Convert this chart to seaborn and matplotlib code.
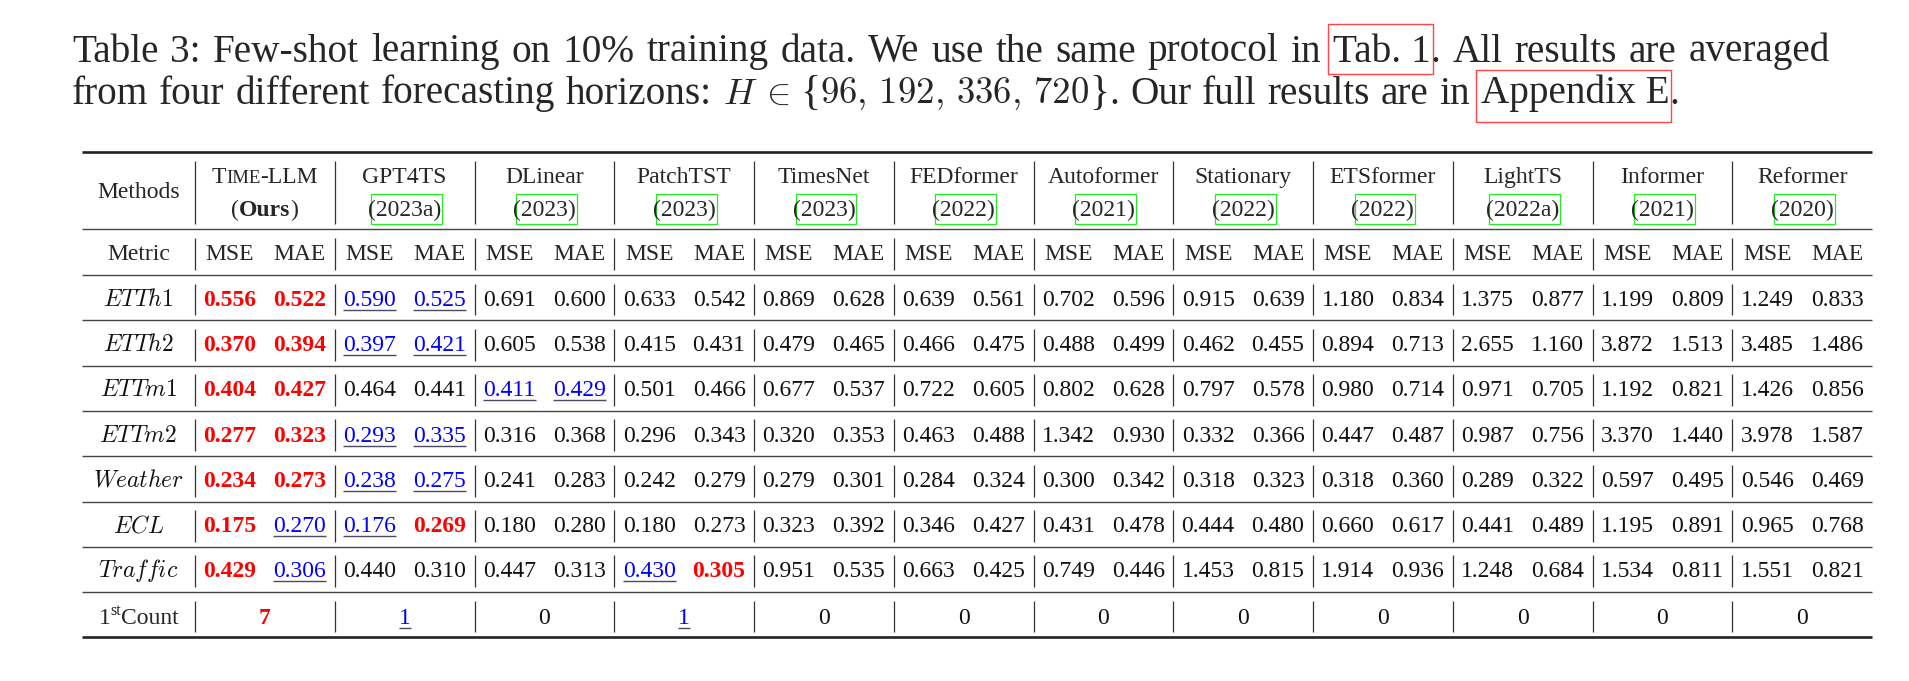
import numpy as np
import pandas as pd
import matplotlib
matplotlib.use('Agg')
import matplotlib.pyplot as plt
from matplotlib.patches import Rectangle
import seaborn as sns

# ---- table data (Table 3, few-shot 10%) ----
methods = ['Time-LLM', 'GPT4TS', 'DLinear', 'PatchTST', 'TimesNet', 'FEDformer',
           'Autoformer', 'Stationary', 'ETSformer', 'LightTS', 'Informer', 'Reformer']
cites = ['(Ours)', '(2023a)', '(2023)', '(2023)', '(2023)', '(2022)',
         '(2021)', '(2022)', '(2022)', '(2022a)', '(2021)', '(2020)']
metrics = ['MSE', 'MAE']
datasets = ['ETTh1', 'ETTh2', 'ETTm1', 'ETTm2', 'Weather', 'ECL', 'Traffic']

etth1 = [0.556, 0.522, 0.590, 0.525, 0.691, 0.600, 0.633, 0.542, 0.869, 0.628, 0.639, 0.561,
         0.702, 0.596, 0.915, 0.639, 1.180, 0.834, 1.375, 0.877, 1.199, 0.809, 1.249, 0.833]
etth2 = [0.370, 0.394, 0.397, 0.421, 0.605, 0.538, 0.415, 0.431, 0.479, 0.465, 0.466, 0.475,
         0.488, 0.499, 0.462, 0.455, 0.894, 0.713, 2.655, 1.160, 3.872, 1.513, 3.485, 1.486]
ettm1 = [0.404, 0.427, 0.464, 0.441, 0.411, 0.429, 0.501, 0.466, 0.677, 0.537, 0.722, 0.605,
         0.802, 0.628, 0.797, 0.578, 0.980, 0.714, 0.971, 0.705, 1.192, 0.821, 1.426, 0.856]
ettm2 = [0.277, 0.323, 0.293, 0.335, 0.316, 0.368, 0.296, 0.343, 0.320, 0.353, 0.463, 0.488,
         1.342, 0.930, 0.332, 0.366, 0.447, 0.487, 0.987, 0.756, 3.370, 1.440, 3.978, 1.587]
weather = [0.234, 0.273, 0.238, 0.275, 0.241, 0.283, 0.242, 0.279, 0.279, 0.301, 0.284, 0.324,
           0.300, 0.342, 0.318, 0.323, 0.318, 0.360, 0.289, 0.322, 0.597, 0.495, 0.546, 0.469]
ecl = [0.175, 0.270, 0.176, 0.269, 0.180, 0.280, 0.180, 0.273, 0.323, 0.392, 0.346, 0.427,
       0.431, 0.478, 0.444, 0.480, 0.660, 0.617, 0.441, 0.489, 1.195, 0.891, 0.965, 0.768]
traffic = [0.429, 0.306, 0.440, 0.310, 0.447, 0.313, 0.430, 0.305, 0.951, 0.535, 0.663, 0.425,
           0.749, 0.446, 1.453, 0.815, 1.914, 0.936, 1.248, 0.684, 1.534, 0.811, 1.551, 0.821]
first_count = [7, 1, 0, 1, 0, 0, 0, 0, 0, 0, 0, 0]

cols = pd.MultiIndex.from_product([methods, metrics])
df = pd.DataFrame([etth1, etth2, ettm1, ettm2, weather, ecl, traffic],
                  index=datasets, columns=cols)

RED = '#ff0000'
BLUE = '#0000ff'

sns.set_theme(style='white')
plt.rcParams['font.family'] = ['Liberation Serif', 'DejaVu Serif']
plt.rcParams['mathtext.fontset'] = 'cm'

fig = plt.figure(figsize=(19.09, 6.81), dpi=100)
ax = fig.add_axes([0, 0, 1, 1])
ax.set_xlim(0, 1909)
ax.set_ylim(681, 0)
ax.axis('off')
sns.despine(ax=ax, left=True, bottom=True)
renderer = fig.canvas.get_renderer()


def rich(x, y, pieces, ha='center', size=17):
    """draw a list of (text, kwargs) pieces side by side, return x-extent"""
    objs, widths = [], []
    for s, kw in pieces:
        kw = dict(kw)
        dy = kw.pop('dy', 0)
        pad = kw.pop('pad', 0)
        kw.setdefault('fontsize', size)
        t = ax.text(0, y - dy, s, ha='left', va='baseline', **kw)
        objs.append(t)
        widths.append(t.get_window_extent(renderer).width + pad)
    total = sum(widths)
    x0 = x - total / 2 if ha == 'center' else x
    cur = x0
    spans = []
    for t, w in zip(objs, widths):
        t.set_x(cur)
        spans.append((cur, cur + w))
        cur += w
    return x0, x0 + total, spans


# ---- caption ----
TS = 28.3
BASE1, BASE2 = 61.5, 103.5
LEFT, RIGHT = 72, 1830
probe = ax.text(0, 0, 'a a', fontsize=TS)
probe2 = ax.text(0, 0, 'aa', fontsize=TS)
SPACE = probe.get_window_extent(renderer).width - probe2.get_window_extent(renderer).width
probe.remove()
probe2.remove()

line1 = 'Table 3: Few-shot learning on 10% training data. We use the same protocol in'.split()
line1 = [[(w, {})] for w in line1]
line1.append([('Tab. 1', {'box': 'tab'}), ('.', {})])
line1 += [[(w, {})] for w in 'All results are averaged'.split()]

MATH = {'math_fontfamily': 'cm', 'fontsize': 26.5}
line2 = [[(w, {})] for w in 'from four different forecasting horizons:'.split()]
line2.append([(r'$H$', dict(MATH, pad=3)), (r'$\in$', dict(MATH, pad=10)),
              ('{', {'fontsize': 30}),
              (r'$96,\,192,\,336,\,720$', MATH), ('}', {'fontsize': 30}), ('.', {})])
line2 += [[(w, {})] for w in 'Our full results are in'.split()]
line2.append([('Appendix E', {'box': 'app'}), ('.', {})])


def lay_line(words, base, justify):
    drawn = []
    for word in words:
        pcs = []
        boxes = []
        for s, kw in word:
            kw = dict(kw)
            b = kw.pop('box', None)
            pcs.append((s, kw))
            boxes.append(b)
        x0, x1, spans = rich(0, base, pcs, ha='left', size=TS)
        drawn.append((x1 - x0, spans, boxes, pcs))
    widths = [d[0] for d in drawn]
    if justify:
        gap = (RIGHT - LEFT - sum(widths)) / (len(words) - 1)
    else:
        gap = SPACE * 1.1
    cur = LEFT
    result = []
    for (w, spans, boxes, pcs) in drawn:
        result.append((cur, spans, boxes))
        cur += w + gap
    return result, gap


for words, base, just in [(line1, BASE1, True), (line2, BASE2, False)]:
    start_idx = len(ax.texts)
    res, gap = lay_line(words, base, just)
    texts = ax.texts[start_idx:]
    k = 0
    for cur, spans, boxes in res:
        off = cur - spans[0][0]
        for (a, b), box in zip(spans, boxes):
            texts[k].set_x(a + off)
            if box == 'tab':
                ax.add_patch(Rectangle((a + off - 5, base - 37.5), b - a + 7, 50,
                                       fill=False, ec='#ff4545', lw=1.0))
            elif box == 'app':
                ax.add_patch(Rectangle((a + off - 5, base - 33.5), b - a + 7, 52,
                                       fill=False, ec='#ff4545', lw=1.0))
            k += 1

# ---- table geometry ----
X0, X1 = 82, 1872
COL0 = 195
GW = (X1 - COL0) / len(methods)
rule_y = [152, 229, 275] + [275 + 45.3 * (i + 1) for i in range(len(datasets) + 1)]
THICK, THIN = 1.9, 1.0

for i, yv in enumerate(rule_y):
    lw = THICK if i in (0, len(rule_y) - 1) else THIN
    col = '#222222' if lw == THICK else '#444444'
    ax.hlines(yv, X0, X1, color=col, lw=lw)

# vertical separators per row
for top, bot in zip(rule_y[:-1], rule_y[1:]):
    for k in range(len(methods)):
        xv = COL0 + GW * k
        ax.vlines(xv, top + 8.5, bot - 5, color='#333333', lw=0.9)

mid = [(a + b) / 2 for a, b in zip(rule_y[:-1], rule_y[1:])]
LEFTC = (X0 + COL0) / 2

# header
ax.text(LEFTC, 198, 'Methods', ha='center', va='baseline', fontsize=17)
for k, (m, c) in enumerate(zip(methods, cites)):
    cx = COL0 + GW * (k + 0.5)
    if m == 'Time-LLM':
        rich(cx, 183, [('T', {}), ('IME', {'fontsize': 13.5}), ('-LLM', {})])
        rich(cx, 216, [('(', {}), ('Ours', {'fontweight': 'bold'}), (')', {})])
    else:
        ax.text(cx, 183, m, ha='center', va='baseline', fontsize=17)
        a, b, _ = rich(cx, 216, [(c, {})])
        ax.add_patch(Rectangle((a + 3, 194), b - a - 2, 30, fill=False,
                               ec='#22ee22', lw=0.9))

# metric row
ax.text(LEFTC, mid[1] + 8, 'Metric', ha='center', va='baseline', fontsize=17)
for k in range(len(methods)):
    for j, met in enumerate(metrics):
        cx = COL0 + GW * k + GW * (0.25 + 0.5 * j)
        ax.text(cx, mid[1] + 8, met, ha='center', va='baseline', fontsize=17)


def styled(cx, base, s, rank):
    if rank == 0:
        ax.text(cx, base, s, ha='center', va='baseline', fontsize=17,
                color=RED, fontweight='bold')
    elif rank == 1:
        a, b, _ = rich(cx, base, [(s, {'color': BLUE})])
        ax.hlines(base + 4, a, b, color='#4a4a66', lw=1.0)
    else:
        ax.text(cx, base, s, ha='center', va='baseline', fontsize=17, color='#111111')


# data rows
for r, ds in enumerate(datasets):
    base = mid[2 + r] + 8
    ax.text(LEFTC, base, '$' + ds + '$', ha='center', va='baseline', fontsize=17,
            math_fontfamily='cm', color='#111111')
    for j, met in enumerate(metrics):
        vals = df.loc[ds].xs(met, level=1)
        uniq = sorted(set(vals.values))
        for k, m in enumerate(methods):
            v = vals[m]
            rank = uniq.index(v)
            cx = COL0 + GW * k + GW * (0.25 + 0.5 * j)
            styled(cx, base, f'{v:.3f}', rank)

# 1st count row
base = mid[-1] + 9
rich(LEFTC, base, [('1', {}), ('st', {'fontsize': 11.5, 'dy': 9}), ('Count', {})])
uniq_c = sorted(set(first_count), reverse=True)
for k, c in enumerate(first_count):
    cx = COL0 + GW * (k + 0.5)
    styled(cx, base, str(c), uniq_c.index(c))

fig.savefig('out.png', dpi=100)
